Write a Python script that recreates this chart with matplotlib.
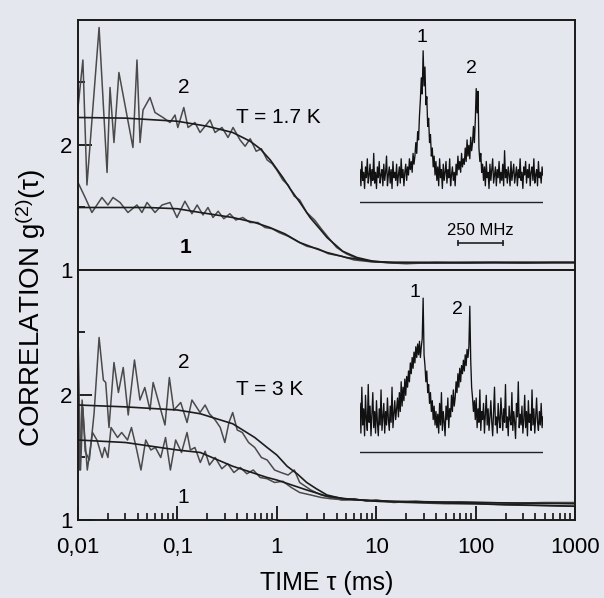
import numpy as np
import matplotlib
matplotlib.use("Agg")
import matplotlib.pyplot as plt

plt.rcParams['font.family'] = ['Liberation Sans', 'DejaVu Sans']
plt.rcParams['mathtext.fontset'] = 'custom'
plt.rcParams['mathtext.rm'] = 'Liberation Sans'
plt.rcParams['mathtext.it'] = 'Liberation Sans:italic'

# --- T = 1.7 K : correlation traces (tau in ms) ---
up2_tau = [0.0100, 0.0112, 0.0123, 0.0163, 0.0196, 0.0210, 0.0230, 0.0258, 0.0357, 0.0392,
           0.0421, 0.0451, 0.0530, 0.0595, 0.0716, 0.0843, 0.0946, 0.101, 0.116, 0.128,
           0.150, 0.169, 0.213, 0.239, 0.281, 0.323, 0.363, 0.427, 0.48, 0.54,
           0.62, 0.70, 0.80, 0.90, 1.0, 1.15, 1.3, 1.5, 1.7, 2.0,
           2.4, 2.8, 3.3, 4.0, 5.0, 6.5, 8.5, 12, 20, 40,
           80, 150, 300, 600, 1000]
up2_val = [2.30, 2.68, 1.68, 2.94, 1.78, 2.46, 2.02, 2.58, 1.98, 2.68,
           2.02, 2.28, 2.38, 2.26, 2.22, 2.18, 2.24, 2.14, 2.30, 2.14,
           2.18, 2.10, 2.20, 2.10, 2.14, 2.06, 2.14, 2.04, 1.99, 2.05,
           1.95, 1.97, 1.88, 1.85, 1.80, 1.72, 1.68, 1.59, 1.56, 1.46,
           1.40, 1.33, 1.26, 1.18, 1.13, 1.09, 1.07, 1.06, 1.05, 1.06,
           1.055, 1.06, 1.055, 1.06, 1.06]
up2_fit_tau = [0.01, 0.03, 0.1, 0.2, 0.36, 0.54, 0.68, 0.86, 1.15, 1.36,
               1.71, 2.16, 2.7, 3.2, 4.6, 6.4, 9.3, 13, 30, 100, 1000]
up2_fit_val = [2.22, 2.215, 2.19, 2.15, 2.10, 2.03, 1.97, 1.88, 1.74, 1.65,
               1.54, 1.42, 1.33, 1.26, 1.15, 1.10, 1.07, 1.06, 1.06, 1.06, 1.06]

up1_tau = [0.0100, 0.0118, 0.0138, 0.0174, 0.0200, 0.0225, 0.0265, 0.0318, 0.0392, 0.0440,
           0.0495, 0.0595, 0.0701, 0.0843, 0.0990, 0.119, 0.140, 0.158, 0.181, 0.203,
           0.228, 0.257, 0.293, 0.337, 0.387, 0.455, 0.537, 0.645, 0.76, 0.9,
           1.05, 1.3, 1.6, 2.0, 2.6, 3.3, 4.5, 6, 9, 15,
           40, 100, 300, 1000]
up1_val = [1.70, 1.58, 1.46, 1.58, 1.52, 1.58, 1.54, 1.46, 1.52, 1.46,
           1.54, 1.46, 1.52, 1.54, 1.42, 1.55, 1.45, 1.52, 1.44, 1.50,
           1.42, 1.47, 1.41, 1.45, 1.40, 1.42, 1.38, 1.38, 1.34, 1.33,
           1.30, 1.27, 1.23, 1.19, 1.17, 1.13, 1.11, 1.08, 1.065, 1.06,
           1.055, 1.06, 1.06, 1.06]
up1_fit_tau = [0.01, 0.05, 0.1, 0.17, 0.36, 0.6, 0.85, 1.2, 1.7, 2.5,
               3.2, 5, 9, 15, 100, 1000]
up1_fit_val = [1.50, 1.50, 1.49, 1.46, 1.42, 1.38, 1.34, 1.29, 1.22, 1.17,
               1.14, 1.10, 1.07, 1.06, 1.06, 1.06]

# --- T = 3 K ---
lo2_tau = [0.0100, 0.0106, 0.0112, 0.0118, 0.0130, 0.0145, 0.0163, 0.0180, 0.0190, 0.0205,
           0.0230, 0.0255, 0.0285, 0.0320, 0.0370, 0.0420, 0.0470, 0.0530, 0.0570, 0.0670,
           0.0750, 0.0830, 0.0920, 0.108, 0.125, 0.140, 0.169, 0.19, 0.21, 0.24,
           0.27, 0.30, 0.33, 0.36, 0.40, 0.45, 0.52, 0.60, 0.70, 0.80,
           0.95, 1.1, 1.3, 1.5, 1.7, 2.2, 2.8, 3.5, 4.5, 6,
           8, 10, 15, 25, 40, 70, 120, 250, 500, 1000]
lo2_val = [2.50, 1.40, 1.90, 1.55, 1.48, 1.85, 2.46, 2.12, 2.10, 1.74,
           2.26, 2.02, 2.22, 1.84, 2.28, 1.96, 2.06, 1.88, 2.10, 1.90,
           1.76, 2.14, 1.88, 1.94, 1.78, 1.96, 1.86, 1.92, 1.85, 1.80,
           1.74, 1.62, 1.78, 1.86, 1.72, 1.70, 1.62, 1.58, 1.50, 1.48,
           1.40, 1.38, 1.36, 1.40, 1.30, 1.24, 1.20, 1.18, 1.16, 1.17,
           1.15, 1.16, 1.14, 1.15, 1.14, 1.145, 1.14, 1.135, 1.14, 1.14]
lo2_fit_tau = [0.01, 0.03, 0.1, 0.17, 0.36, 0.6, 0.8, 1.0, 1.27, 1.6,
               2.0, 2.5, 3.2, 4.6, 7, 15, 100, 1000]
lo2_fit_val = [1.92, 1.905, 1.88, 1.85, 1.77, 1.66, 1.58, 1.52, 1.43, 1.37,
               1.30, 1.25, 1.20, 1.17, 1.16, 1.15, 1.14, 1.13]

lo1_tau = [0.0100, 0.0104, 0.0110, 0.0115, 0.0124, 0.0140, 0.0155, 0.0175, 0.0185, 0.0200,
           0.0215, 0.0250, 0.0275, 0.0315, 0.0345, 0.0385, 0.0430, 0.0480, 0.0540, 0.0600,
           0.0680, 0.0760, 0.0850, 0.0960, 0.110, 0.125, 0.135, 0.150, 0.17, 0.19,
           0.21, 0.24, 0.28, 0.32, 0.37, 0.43, 0.50, 0.58, 0.68, 0.80,
           0.95, 1.15, 1.4, 1.7, 2.2, 2.8, 3.5, 5, 7, 10,
           20, 50, 100, 200, 500, 1000]
lo1_val = [1.90, 1.40, 1.96, 1.74, 1.40, 1.70, 1.64, 1.50, 1.58, 1.50,
           1.74, 1.66, 1.70, 1.64, 1.74, 1.58, 1.40, 1.64, 1.56, 1.58,
           1.50, 1.66, 1.40, 1.64, 1.54, 1.70, 1.56, 1.58, 1.46, 1.55,
           1.44, 1.50, 1.41, 1.45, 1.38, 1.42, 1.37, 1.40, 1.34, 1.33,
           1.30, 1.31, 1.26, 1.22, 1.20, 1.18, 1.17, 1.16, 1.16, 1.15,
           1.14, 1.13, 1.13, 1.12, 1.115, 1.11]
lo1_fit_tau = [0.01, 0.03, 0.1, 0.17, 0.36, 0.8, 1.0, 2.0, 3.2, 5,
               10, 100, 1000]
lo1_fit_val = [1.64, 1.62, 1.56, 1.54, 1.43, 1.34, 1.32, 1.24, 1.19, 1.17,
               1.15, 1.13, 1.11]

# --- inset spectra (intensity, arbitrary units, 0..1000 MHz) ---
spec_hot = [1.2, 0.6, 1.5, 0.8, 1.1, 0.5, 1.3, 0.9, 1.6, 0.7, 1.0, 1.4, 0.6, 1.2, 0.8, 1.8, 0.7, 1.1, 0.5, 1.3,
            0.9, 1.5, 0.7, 1.0, 1.2, 0.6, 1.4, 0.8, 1.1, 1.7, 0.6, 1.0, 1.3, 0.7, 1.2, 0.5, 1.5, 0.9, 1.1, 0.8,
            1.4, 0.6, 1.0, 1.3, 0.7, 1.6, 0.9, 1.2, 0.6, 1.1, 1.4, 0.8, 1.3, 1.0, 1.6, 1.2, 1.5, 1.1, 1.8, 1.4,
            1.7, 2.2, 1.8, 2.6, 2.3, 3.2, 3.8, 4.6, 4.0, 5.6, 4.3, 5.0, 3.6, 3.9, 2.8, 3.1, 2.2, 2.5, 1.7, 2.0,
            1.3, 1.7, 1.0, 1.5, 0.8,
            1.3, 0.6, 1.6, 0.9, 1.2, 0.5, 1.4, 0.8, 1.1, 1.5, 0.7, 1.2, 0.9, 1.6, 0.6, 1.0, 1.3, 0.8, 1.1, 0.6,
            1.4, 1.0, 1.7, 1.2, 1.5, 1.1, 1.8, 1.3, 1.6,
            1.4, 2.0, 1.5, 2.3, 1.7, 2.1, 1.6, 2.4, 1.9, 2.2, 2.8, 2.2, 3.0, 4.2, 3.3, 4.1, 2.0, 1.5, 1.8, 1.1,
            1.4,
            0.8, 1.3, 0.6, 1.5, 0.9, 1.1, 0.5, 1.4, 0.8, 1.2, 1.6, 0.7, 1.0, 1.3, 0.6, 1.2, 0.9, 1.5, 0.7, 1.1,
            0.8, 1.4, 0.6, 1.9, 0.9, 1.2, 0.7, 1.3, 1.0, 0.6, 1.5, 0.8, 1.1, 1.4, 0.7, 1.0, 1.3, 0.6, 1.2, 0.9,
            1.6, 0.8, 1.1, 0.5, 1.3, 1.0, 1.5, 0.7, 1.2, 0.9, 1.4, 0.6, 1.1, 1.3, 0.8, 1.6, 0.7, 1.0, 1.2, 0.6,
            1.5, 0.9, 1.1, 0.7, 1.3, 1.0]
spec_warm = [1.8, 0.7, 2.4, 1.0, 1.6, 0.6, 2.1, 1.2, 0.8, 2.5, 1.1, 1.7, 0.6, 1.4, 2.2, 0.9, 1.5, 0.7, 1.9, 1.1,
             0.6, 1.6, 1.0, 2.3, 0.8, 1.3, 1.8, 0.7, 1.5, 1.0, 2.0, 1.2, 0.8, 1.7, 1.1, 2.4, 0.9, 1.4, 1.9, 1.2,
             1.6, 2.0, 1.3, 2.2, 1.5, 2.6,
             1.7, 2.4, 1.9, 2.7, 2.1, 2.8, 2.4, 3.0, 2.6, 3.3, 2.9, 3.5, 3.1, 3.7, 3.3, 3.9, 3.5, 4.0, 3.6, 4.1,
             3.5, 3.9, 4.2, 5.7, 3.6, 3.2, 2.6, 3.0, 2.2, 2.5, 1.8, 2.2, 1.5, 1.9, 1.2, 1.7, 1.0, 1.5, 0.9,
             1.4, 0.7, 1.8, 1.0, 2.2, 0.8, 1.5, 1.1, 0.6, 1.7, 1.2, 2.0, 0.9, 1.6, 1.3, 2.1, 1.5, 2.3, 1.7,
             2.0, 2.6, 2.2, 2.9, 2.4, 3.1, 2.6, 3.2, 2.9, 3.4, 3.0, 3.6, 3.2, 3.8, 3.5, 3.9, 5.4, 3.4, 2.4, 2.0,
             1.5, 1.9,
             1.2, 2.0, 0.9, 1.6, 1.1, 2.3, 0.8, 1.5, 1.2, 1.8, 0.7, 1.4, 2.1, 1.0, 1.6, 0.8, 1.3, 1.9, 1.1, 0.6,
             1.5, 2.4, 1.0, 1.3, 0.7, 1.8, 1.2, 0.9, 2.0, 1.4, 0.8, 1.6, 1.1, 2.5, 0.9, 1.3, 0.6, 1.7, 1.2, 1.0,
             2.2, 0.8, 1.5, 1.1, 0.5, 1.8, 1.3, 2.6, 0.9, 1.4, 1.0, 1.7, 0.7, 1.2, 2.1, 0.9, 1.5, 0.6, 1.9, 1.1,
             1.4, 0.8, 2.3, 1.0, 1.6, 0.7, 1.3, 2.0, 1.1, 0.8, 1.5, 1.0, 1.8, 0.9, 1.3]

xticks = [0.01, 0.1, 1, 10, 100, 1000]
xticklabels = ['0,01', '0,1', '1', '10', '100', '1000']

bg = '#e4e7ee'
noisy_c = '#4a4a4a'
fit_c = '#1c1c1c'
fs_tick = 16
fs_txt = 15
fs_lab = 18

fig = plt.figure(figsize=(6.04, 5.98), dpi=100, facecolor=bg)
ax_top = fig.add_axes([78/604, 1 - 270/598, 497/604, 250/598], facecolor=bg)
ax_bot = fig.add_axes([78/604, 1 - 520/598, 497/604, 250/598], facecolor=bg)

for ax in (ax_top, ax_bot):
    ax.set_xscale('log')
    ax.set_xlim(0.01, 1000)
    ax.set_ylim(1, 3)
    ax.set_yticks([1, 2])
    ax.set_yticks([1.5, 2.5], minor=True)
    ax.set_yticklabels(['1', '2'], fontsize=fs_tick)
    ax.tick_params(axis='y', which='major', direction='in', length=10, width=1.2, pad=4)
    ax.tick_params(axis='y', which='minor', direction='in', length=5, width=1.2)
    ax.tick_params(axis='y', which='both', right=False)
    for s in ax.spines.values():
        s.set_linewidth(1.4)
        s.set_color('#1a1a1a')

ax_top.tick_params(axis='x', which='both', bottom=False, top=False, labelbottom=False)
ax_bot.set_xticks(xticks)
ax_bot.set_xticklabels(xticklabels, fontsize=fs_tick)
ax_bot.xaxis.set_minor_locator(matplotlib.ticker.LogLocator(base=10, subs=np.arange(2, 10)))
ax_bot.xaxis.set_minor_formatter(matplotlib.ticker.NullFormatter())
ax_bot.tick_params(axis='x', which='major', direction='in', length=10, width=1.2, pad=12, top=False)
ax_bot.tick_params(axis='x', which='minor', direction='in', length=5, width=1.1, top=False)

# curves
ax_top.plot(up2_tau, up2_val, color=noisy_c, lw=1.1)
ax_top.plot(up1_tau, up1_val, color=noisy_c, lw=1.1)
ax_top.plot(up2_fit_tau, up2_fit_val, color=fit_c, lw=1.2)
ax_top.plot(up1_fit_tau, up1_fit_val, color=fit_c, lw=1.2)

ax_bot.plot(lo2_tau, lo2_val, color=noisy_c, lw=1.1)
ax_bot.plot(lo1_tau, lo1_val, color=noisy_c, lw=1.1)
ax_bot.plot(lo2_fit_tau, lo2_fit_val, color=fit_c, lw=1.2)
ax_bot.plot(lo1_fit_tau, lo1_fit_val, color=fit_c, lw=1.2)

# labels inside panels
ax_top.text(0.115, 2.46, '2', fontsize=fs_txt, ha='center', va='center')
ax_top.text(1.03, 2.22, 'T = 1.7 K', fontsize=fs_txt, ha='center', va='center')
ax_top.text(0.12, 1.18, '1', fontsize=fs_txt, ha='center', va='center', fontweight='bold')
ax_bot.text(0.115, 2.26, '2', fontsize=fs_txt, ha='center', va='center')
ax_bot.text(0.85, 2.04, 'T = 3 K', fontsize=fs_txt, ha='center', va='center')
ax_bot.text(0.115, 1.18, '1', fontsize=fs_txt, ha='center', va='center')

fig.text(31/604, 1 - 308/598, r'CORRELATION g$^{\mathrm{(2)}}$(τ)', rotation=90,
         ha='center', va='center', fontsize=20)
fig.text(327/604, 1 - 583/598, 'TIME τ (ms)', ha='center', va='center', fontsize=fs_lab)

# insets with spectra
ins_top = fig.add_axes([360/604, 1 - 256/598, 183/604, 232.2/598], facecolor='none')
ins_top.plot(np.linspace(0, 1000, len(spec_hot)), spec_hot, color='#111111', lw=0.95)
ins_top.axhline(0, color='#222222', lw=1.0)
ins_top.set_xlim(0, 1000)
ins_top.set_ylim(-2, 6.6)
ins_top.text(339, 6.1, '1', fontsize=fs_txt - 1, ha='center', va='center')
ins_top.text(607, 4.96, '2', fontsize=fs_txt - 1, ha='center', va='center')
ins_top.text(658, -1.04, '250 MHz', fontsize=12, ha='center', va='center')
ins_top.plot([535, 781], [-1.52, -1.52], color='#222222', lw=1.2, marker='|', ms=5, mew=1.2)
ins_top.axis('off')

ins_bot = fig.add_axes([360/604, 1 - 479/598, 183/604, 202.5/598], facecolor='none')
ins_bot.plot(np.linspace(0, 1000, len(spec_warm)), spec_warm, color='#111111', lw=0.95)
ins_bot.axhline(0, color='#222222', lw=1.0)
ins_bot.set_xlim(0, 1000)
ins_bot.set_ylim(-1, 6.5)
ins_bot.text(300, 5.9, '1', fontsize=fs_txt - 1, ha='center', va='center')
ins_bot.text(530, 5.26, '2', fontsize=fs_txt - 1, ha='center', va='center')
ins_bot.axis('off')

fig.savefig('out.png', dpi=100, facecolor=bg)
